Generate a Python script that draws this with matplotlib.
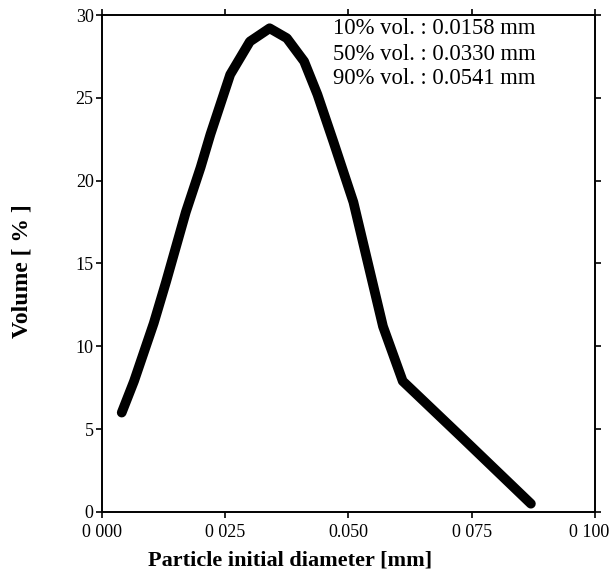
import matplotlib
matplotlib.use("Agg")
import matplotlib.pyplot as plt
import matplotlib.transforms as mtransforms

# particle size distribution
diameter = [0.004, 0.0065, 0.0105, 0.013, 0.017, 0.020, 0.022, 0.026, 0.030,
            0.034, 0.0375, 0.041, 0.0437, 0.047, 0.051, 0.057, 0.061, 0.073, 0.087]
volume = [6.0, 7.9, 11.4, 13.9, 18.1, 20.8, 22.8, 26.4, 28.4,
          29.2, 28.6, 27.2, 25.2, 22.3, 18.7, 11.2, 7.9, 4.5, 0.5]

x_ticks = [0.0, 0.025, 0.050, 0.075, 0.100]
x_tick_labels = ["0 000", "0 025", "0.050", "0 075", "0 100"]
y_ticks = [0, 5, 10, 15, 20, 25, 30]

stats = ["10% vol. : 0.0158 mm", "50% vol. : 0.0330 mm", "90% vol. : 0.0541 mm"]

plt.rcParams['font.family'] = ['Liberation Serif', 'DejaVu Serif']

fig = plt.figure(figsize=(6.13, 5.86), dpi=100)
ax = fig.add_axes([0.1664, 0.1263, 0.8042, 0.8481])

ax.plot(diameter, volume, color="black", lw=7.0, solid_capstyle="round",
        solid_joinstyle="round")

ax.set_xlim(0, 0.1)
ax.set_ylim(0, 30)
ax.set_xticks(x_ticks)
ax.set_xticklabels(x_tick_labels)
ax.set_yticks(y_ticks)
ax.tick_params(direction="out", length=4, width=1.2, labelsize=13,
               top=True, right=True, pad=2)
ax.tick_params(axis="x", pad=5)
for s in ax.spines.values():
    s.set_linewidth(1.4)

# last x label sits a bit left of its tick, as in the scan
last = ax.get_xticklabels()[-1]
last.set_transform(last.get_transform() +
                   mtransforms.ScaledTranslation(-4 / 72, 0, fig.dpi_scale_trans))

# three lines, 25 px apart
for i, line in enumerate(stats):
    fig.text(333 / 613, 1 - (29 + 25 * i) / 586, line, ha="left",
             va="center", fontsize=16.3)

fig.text(290 / 613, 1 - 560 / 586, "Particle initial diameter [mm]",
         ha="center", va="center", fontsize=16, fontweight="bold")
fig.text(22 / 613, 1 - 271 / 586, "Volume [ % ]", rotation=90,
         ha="center", va="center", fontsize=17, fontweight="bold")

fig.savefig("out.png", dpi=100)
